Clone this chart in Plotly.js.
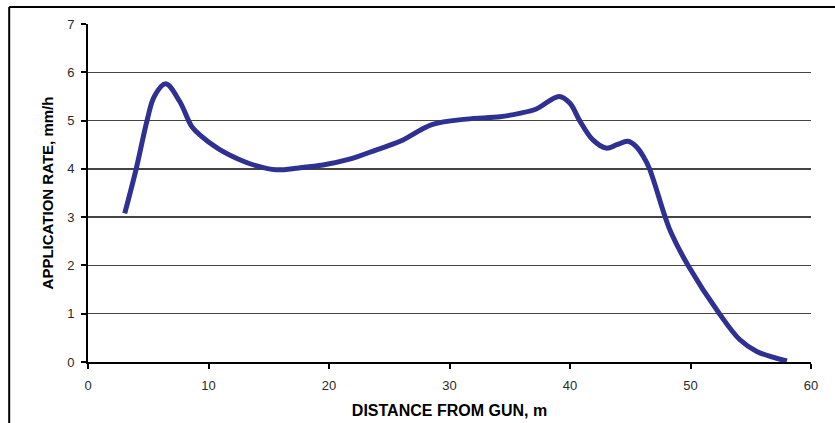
<!DOCTYPE html>
<html>
<head>
<meta charset="utf-8">
<script src="https://cdn.plot.ly/plotly-3.0.1.min.js"></script>
<style>
  html, body { margin: 0; padding: 0; background: #fff; }
  #chart { width: 835px; height: 423px; }
</style>
</head>
<body>
<div id="chart"></div>
<script>
// Distance from the sprinkler gun (m)
const distance = [3.05, 4.0, 4.9, 5.5, 6.45, 7.6, 8.6, 9.3, 10.8, 12.5, 14.0, 15.6, 17.5, 19.5, 21.7, 24.0, 25.9, 28.6, 31.4, 34.2, 35.8, 37.2, 39.1, 40.0, 40.8, 41.9, 43.0, 43.9, 44.8, 45.5, 46.1, 46.6, 47.9, 48.4, 49.8, 52.4, 54.1, 55.5, 58.0];
// Application rate (mm/h)
const rate = [3.08, 4.0, 5.0, 5.5, 5.76, 5.4, 4.88, 4.7, 4.42, 4.2, 4.06, 3.98, 4.02, 4.08, 4.2, 4.4, 4.57, 4.92, 5.03, 5.08, 5.15, 5.24, 5.5, 5.36, 5.0, 4.6, 4.43, 4.5, 4.57, 4.46, 4.25, 4.0, 3.0, 2.67, 2.0, 1.0, 0.46, 0.22, 0.02];

const xTicks = [0, 10, 20, 30, 40, 50, 60];
const yTicks = [0, 1, 2, 3, 4, 5, 6, 7];

const tickFont = { family: 'Liberation Sans, Arial, sans-serif', size: 13, color: '#2a2a2a' };
const xTitleFont = { family: 'Liberation Sans, Arial, sans-serif', size: 16, color: '#000', weight: 'bold' };
const yTitleFont = { family: 'Liberation Sans, Arial, sans-serif', size: 15, color: '#000', weight: 'bold' };

const trace = {
  x: distance,
  y: rate,
  type: 'scatter',
  mode: 'lines',
  line: { color: '#2E3192', width: 5, shape: 'spline', smoothing: 1.0 },
  hoverinfo: 'x+y'
};

const layout = {
  width: 835,
  height: 423,
  margin: { l: 88, r: 24, t: 24, b: 61 },
  paper_bgcolor: '#fff',
  plot_bgcolor: '#fff',
  showlegend: false,
  xaxis: {
    range: [0, 60],
    tickvals: xTicks,
    ticks: 'outside',
    ticklen: 5,
    tickwidth: 2,
    tickcolor: '#000',
    ticklabelstandoff: 5,
    showgrid: false,
    zeroline: false,
    showline: true,
    linecolor: '#000',
    linewidth: 2,
    tickfont: tickFont,
    title: { text: 'DISTANCE FROM GUN, m', font: xTitleFont, standoff: 13 }
  },
  yaxis: {
    range: [0, 7],
    tickvals: yTicks,
    ticks: 'outside',
    ticklen: 5,
    tickwidth: 2,
    tickcolor: '#000',
    ticklabelstandoff: 4,
    showgrid: true,
    gridcolor: '#444',
    gridwidth: 1.5,
    zeroline: false,
    showline: true,
    linecolor: '#000',
    linewidth: 2,
    tickfont: tickFont,
    title: { text: 'APPLICATION RATE, mm/h', font: yTitleFont, standoff: 10 }
  },
  shapes: [
    // outer frame: top and left edges
    { type: 'line', xref: 'paper', yref: 'paper', x0: -0.109, x1: 1.1, y0: 1.0503, y1: 1.0503, line: { color: '#000', width: 2 } },
    { type: 'line', xref: 'paper', yref: 'paper', x0: -0.109, x1: -0.109, y0: 1.0503, y1: -0.25, line: { color: '#000', width: 2 } }
  ]
};

Plotly.newPlot('chart', [trace], layout, { displayModeBar: false, staticPlot: true });
</script>
</body>
</html>
